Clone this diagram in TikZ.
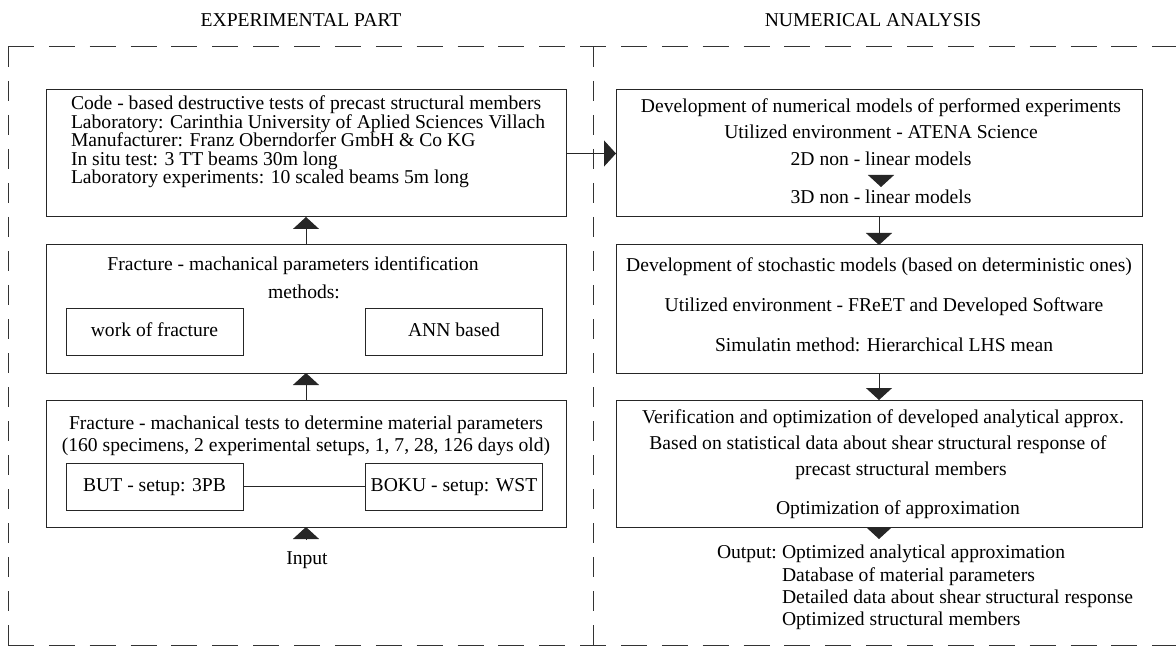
\documentclass[tikz,border=0pt]{standalone}
\usepackage{fontspec}
\setmainfont{Liberation Serif}
\usetikzlibrary{arrows.meta}
\begin{document}
\begin{tikzpicture}[x=0.75pt,y=-0.75pt,
  every node/.style={font=\fontsize{14.7pt}{17pt}\selectfont, inner sep=0pt, outer sep=0pt},
  txt/.style={anchor=base},
  txtw/.style={anchor=base west},
  boxnode/.style={draw=black!85, line width=0.75pt, rectangle},
  bigbox/.style={boxnode, minimum width=390pt, minimum height=95.25pt},
  rbox/.style={boxnode, minimum width=394.5pt, minimum height=95.25pt},
  sbox/.style={boxnode, minimum width=132.75pt, minimum height=35.25pt, text height=10pt, text depth=3pt},
  arr/.style={draw=black!85, line width=0.75pt, -{Triangle[width=19.5pt,length=9pt]}},
  conn/.style={draw=black!85, line width=0.75pt},
  hdash/.style={draw=black!80, line width=0.75pt, dash pattern=on 19.5pt off 11.15pt},
  vdash/.style={draw=black!80, line width=0.75pt, dash pattern=on 15pt off 10.5pt}
]
\useasboundingbox (0,0) rectangle (1176,648);

% titles
\node[txt] (titleL) at (301,27) {EXPERIMENTAL PART};
\node[txt] (titleR) at (873,27) {NUMERICAL ANALYSIS};

% dashed frame
\coordinate (ftl) at (8,47);
\coordinate (fbl) at (8,645);
\coordinate (ftr) at (1190,47);
\coordinate (fbr) at (1190,645);
\coordinate (fdt) at (593,47);
\coordinate (fdb) at (593,645);
\draw[hdash] (ftl) -- (ftr);
\draw[vdash] (ftl) -- (fbl);
\draw[hdash] (fbl) -- (fbr);
\draw[vdash] (fdt) -- (fdb);

% left boxes
\node[bigbox] (b1) at (306,153.5) {};
\node[bigbox, minimum height=96pt] (b2) at (306,309) {};
\node[bigbox] (b3) at (306,463.5) {};

\node[txtw] (t11) at (71,110) {Code - based destructive tests of precast structural members};
\node[txtw] (t12) at (71,128.5) {Laboratory: Carinthia University of Aplied Sciences Villach};
\node[txtw] (t13) at (71,147) {Manufacturer: Franz Oberndorfer GmbH \& Co KG};
\node[txtw] (t14) at (71,165.5) {In situ test: 3 TT beams 30m long};
\node[txtw] (t15) at (71,184) {Laboratory experiments: 10 scaled beams 5m long};

\node[txt] (t21) at (293,271) {Fracture - machanical parameters identification};
\node[txt] (t22) at (304,298) {methods:};
\node[sbox] (wof) at (154.5,331.5) {work of fracture};
\node[sbox] (ann) at (454,331.5) {ANN based};

\node[txt] (t31) at (306,429) {Fracture - machanical tests to determine material parameters};
\node[txt] (t32) at (306,451) {(160 specimens, 2 experimental setups, 1, 7, 28, 126 days old)};
\node[sbox] (but) at (154.5,486.5) {BUT - setup: 3PB};
\node[sbox] (boku) at (454,486.5) {BOKU - setup: WST};
\draw[conn] (but.east) -- (boku.west);

\node[txt] (input) at (307,564) {Input};
\coordinate (inb) at (306,540);

\draw[arr] (inb) -- (b3.south);
\draw[arr] (b3.north) -- (b2.south);
\draw[arr] (b2.north) -- (b1.south);

% right boxes
\node[rbox] (r1) at (879,153.5) {};
\node[rbox, minimum height=96pt] (r2) at (879,309) {};
\node[rbox] (r3) at (879,463.5) {};

\node[txt] (s11) at (881,113) {Development of numerical models of performed experiments};
\node[txt] (s12) at (881,139) {Utilized environment - ATENA Science};
\node[txt] (s13) at (881,166) {2D non - linear models};
\node[txt] (s14) at (881,204) {3D non - linear models};
\coordinate (tri1a) at (881,175);
\coordinate (tri1b) at (881,187);
\draw[arr] (tri1a) -- (tri1b);

\node[txt] (s21) at (879,272) {Development of stochastic models (based on deterministic ones)};
\node[txt] (s22) at (884,311) {Utilized environment - FReET and Developed Software};
\node[txt] (s23) at (884,351) {Simulatin method: Hierarchical LHS mean};

\node[txt] (s31) at (883,423) {Verification and optimization of developed analytical approx.};
\node[txt] (s32) at (878,449) {Based on statistical data about shear structural response of};
\node[txt] (s33) at (901,475) {precast structural members};
\node[txt] (s34) at (898,514) {Optimization of approximation};

\coordinate (outtip) at (879,539);
\node[txtw] (o0) at (717,558) {Output:};
\node[txtw] (o1) at (782,558) {Optimized analytical approximation};
\node[txtw] (o2) at (782,581) {Database of material parameters};
\node[txtw] (o3) at (782,603) {Detailed data about shear structural response};
\node[txtw] (o4) at (782,625) {Optimized structural members};

\draw[arr] (b1.east) -- (r1.west);
\draw[arr] (r1.south) -- (r2.north);
\draw[arr] (r2.south) -- (r3.north);
\draw[arr] (r3.south) -- (outtip);
\end{tikzpicture}
\end{document}
